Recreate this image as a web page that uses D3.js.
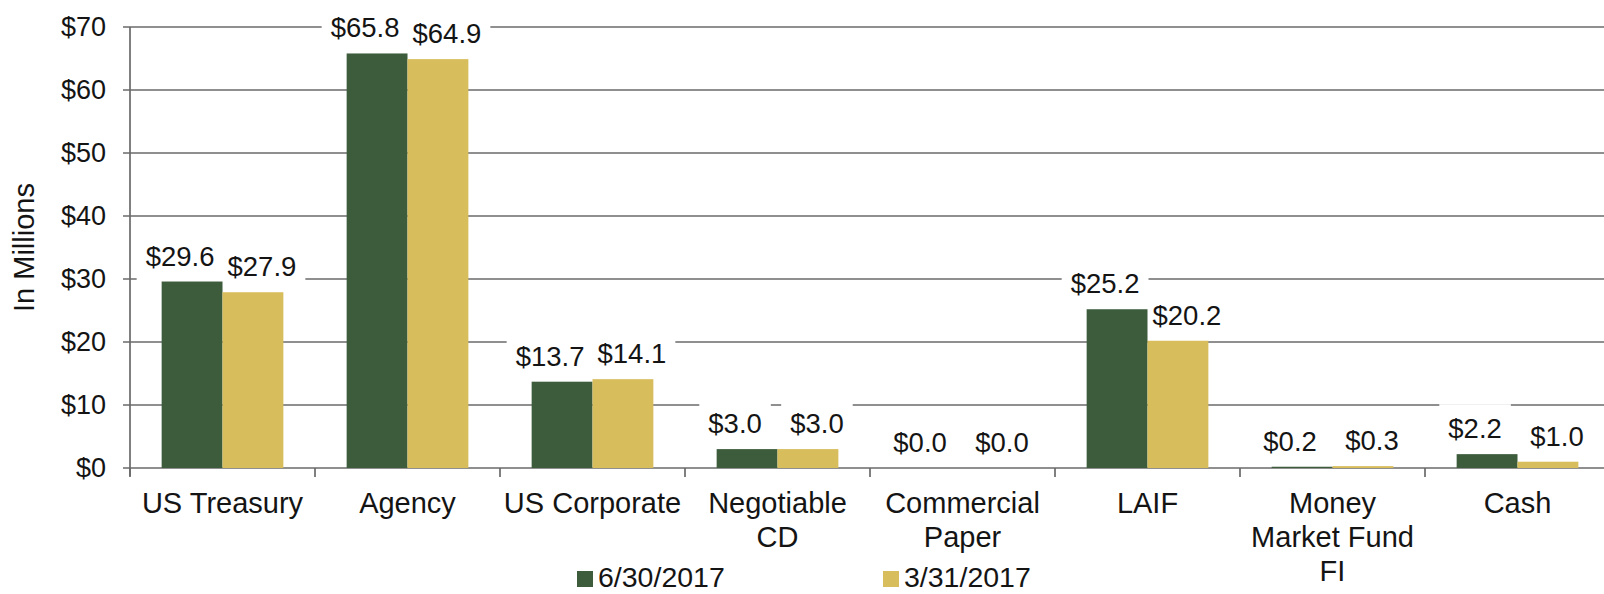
<!DOCTYPE html>
<html>
<head>
<meta charset="utf-8">
<script src="https://cdn.jsdelivr.net/npm/d3@7"></script>
<style>
  html, body { margin: 0; padding: 0; background: #fff; }
  svg { display: block; }
  text { font-family: "Liberation Sans", Arial, sans-serif; fill: #141414; }
</style>
</head>
<body>
<svg id="chart" width="1604" height="594"></svg>
<script>
// Portfolio holdings by investment type, in millions of dollars
const categories = ["US Treasury", "Agency", "US Corporate", "Negotiable\nCD", "Commercial\nPaper", "LAIF", "Money\nMarket Fund\nFI", "Cash"];
const seriesNames = ["6/30/2017", "3/31/2017"];
const valuesJun2017 = [29.6, 65.8, 13.7, 3.0, 0.0, 25.2, 0.2, 2.2];
const valuesMar2017 = [27.9, 64.9, 14.1, 3.0, 0.0, 20.2, 0.3, 1.0];
const yTicks = [0, 10, 20, 30, 40, 50, 60, 70];
const yTitle = "In Millions";

const colors = ["#3d5c3c", "#d8bd5c"];
const gridColor = "#6a6a6a";

const svg = d3.select("#chart");
const plotLeft = 130, plotRight = 1610, plotTop = 27, plotBottom = 468;

const x = d3.scaleBand().domain(categories).range([plotLeft, plotRight]).paddingInner(0).paddingOuter(0);
const xInner = d3.scaleBand().domain(seriesNames).range([0, x.bandwidth()]).paddingInner(0).paddingOuter(0.52);
const y = d3.scaleLinear().domain([0, 70]).range([plotBottom, plotTop]);

const rows = categories.map((c, i) => ({ cat: c, vals: [valuesJun2017[i], valuesMar2017[i]] }));

// Horizontal gridlines with short outward ticks
svg.append("g").selectAll("line").data(yTicks).join("line")
  .attr("x1", plotLeft - 7).attr("x2", plotRight)
  .attr("y1", d => y(d)).attr("y2", d => y(d))
  .attr("stroke", gridColor).attr("stroke-width", 1.7);

// Value axis labels
svg.append("g").selectAll("text").data(yTicks).join("text")
  .attr("x", plotLeft - 24).attr("y", d => y(d))
  .attr("text-anchor", "end").attr("dominant-baseline", "central")
  .attr("font-size", 27)
  .text(d => "$" + d);

// Vertical axis line
svg.append("line").attr("x1", plotLeft).attr("x2", plotLeft).attr("y1", plotTop).attr("y2", plotBottom + 8)
  .attr("stroke", gridColor).attr("stroke-width", 1.7);

// Category boundary ticks
const bounds = categories.map(c => x(c)).concat([plotRight]);
svg.append("g").selectAll("line").data(bounds).join("line")
  .attr("x1", d => d).attr("x2", d => d).attr("y1", plotBottom).attr("y2", plotBottom + 9)
  .attr("stroke", gridColor).attr("stroke-width", 1.7);

// Axis title
svg.append("text")
  .attr("transform", `translate(24,${(plotTop + plotBottom) / 2}) rotate(-90)`)
  .attr("text-anchor", "middle").attr("dominant-baseline", "central")
  .attr("font-size", 29)
  .text(yTitle);

// Layers: label backgrounds sit under the bars, label text above
const boxLayer = svg.append("g");
const barLayer = svg.append("g");
const textLayer = svg.append("g");

// Bars
const groups = barLayer.selectAll("g").data(rows).join("g")
  .attr("transform", d => `translate(${x(d.cat)},0)`);
groups.selectAll("rect").data(d => d.vals.map((v, i) => ({ v, s: seriesNames[i], i }))).join("rect")
  .attr("x", d => xInner(d.s)).attr("width", xInner.bandwidth())
  .attr("y", d => y(d.v)).attr("height", d => plotBottom - y(d.v))
  .attr("fill", d => colors[d.i]);

// Data labels on white boxes, nudged apart so the pair does not collide
const spread = [-12, 9];
rows.forEach(r => {
  r.vals.forEach((v, i) => {
    const cx = x(r.cat) + xInner(seriesNames[i]) + xInner.bandwidth() / 2 + spread[i];
    const t = textLayer.append("text")
      .attr("x", cx).attr("y", y(v) - 16)
      .attr("text-anchor", "middle").attr("font-size", 27.5)
      .text("$" + v.toFixed(1));
    const bb = t.node().getBBox();
    boxLayer.append("rect")
      .attr("x", bb.x - 9).attr("y", bb.y - 9)
      .attr("width", bb.width + 18).attr("height", bb.height + 18)
      .attr("fill", "#fff");
  });
});

// Category labels, one tspan per line
const catText = svg.append("g").selectAll("text").data(categories).join("text")
  .attr("text-anchor", "middle").attr("font-size", 29)
  .attr("transform", d => `translate(${x(d) + x.bandwidth() / 2},513)`);
catText.selectAll("tspan").data(d => d.split("\n")).join("tspan")
  .attr("x", 0).attr("y", (d, i) => i * 34)
  .text(d => d);

// Legend
const legendX = [577, 883];
const legend = svg.append("g").selectAll("g").data(seriesNames).join("g")
  .attr("transform", (d, i) => `translate(${legendX[i]},571)`);
legend.append("rect").attr("width", 16).attr("height", 16).attr("fill", (d, i) => colors[i]);
legend.append("text").attr("x", 21).attr("y", 16).attr("font-size", 28.5).text(d => d);
</script>
</body>
</html>
